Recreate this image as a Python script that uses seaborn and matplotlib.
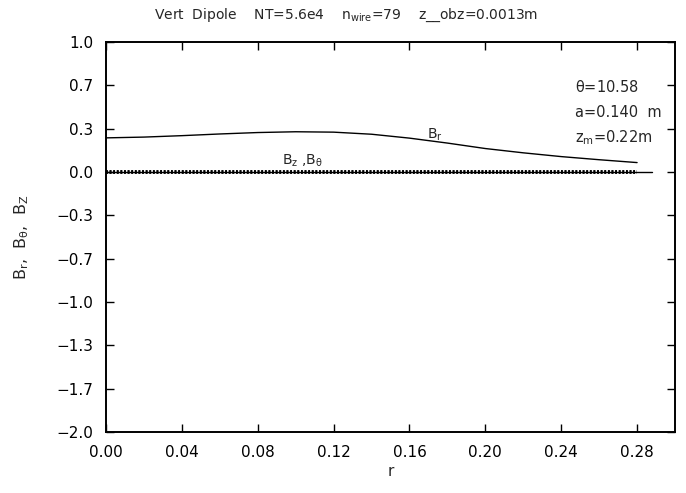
import matplotlib
matplotlib.use('Agg')
import numpy as np
import pandas as pd
import matplotlib.pyplot as plt
import seaborn as sns

# radial positions and field components
r_vals = [0.00, 0.02, 0.04, 0.06, 0.08, 0.10, 0.12, 0.14,
          0.16, 0.18, 0.20, 0.22, 0.24, 0.26, 0.28]
br_vals = [0.262, 0.268, 0.279, 0.292, 0.303, 0.309, 0.306, 0.290,
           0.260, 0.222, 0.180, 0.147, 0.118, 0.094, 0.072]
bz_vals = [0.0] * len(r_vals)
btheta_vals = [0.0] * len(r_vals)

zero_x = [0.0, 0.288]
zero_y = [0.0, 0.0]

x_ticks = [0.00, 0.04, 0.08, 0.12, 0.16, 0.20, 0.24, 0.28]
x_tick_labels = ['0.00', '0.04', '0.08', '0.12', '0.16', '0.20', '0.24', '0.28']
y_ticks = [1.0, 2/3, 1/3, 0.0, -1/3, -2/3, -1.0, -4/3, -5/3, -2.0]
y_tick_labels = ['1.0', '0.7', '0.3', '0.0', '\u22120.3', '\u22120.7',
                 '\u22121.0', '\u22121.3', '\u22121.7', '\u22122.0']

title_txt = r'Vert  Dipole    NT=5.6e4    n$_{wire}$=79    z__obz=0.0013m'
params = [r'$\theta$=10.58', 'a=0.140  m', r'z$_m$=0.22m']

sns.set_style('ticks')
plt.rcParams['font.family'] = ['DejaVu Sans']
plt.rcParams['mathtext.default'] = 'regular'

fig = plt.figure(figsize=(6.86, 4.93), dpi=100)
ax = fig.add_axes([0.1545, 0.1237, 0.8295, 0.7913])

df = pd.DataFrame({'r': r_vals, 'Br': br_vals, 'Bz': bz_vals, 'Bt': btheta_vals})

sns.lineplot(data=df, x='r', y='Br', ax=ax, color='black', linewidth=1.0)
ax.plot(zero_x, zero_y, color='black', linewidth=1.0)
sns.lineplot(data=df, x='r', y='Bz', ax=ax, color='black', linewidth=2.6,
             linestyle=(0, (0.5, 0.5)))
sns.lineplot(data=df, x='r', y='Bt', ax=ax, color='black', linewidth=2.6,
             linestyle=(0, (0.5, 0.5)))

ax.set_xlim(0.0, 0.30)
ax.set_ylim(-2.0, 1.0)
ax.set_xticks(x_ticks)
ax.set_xticklabels(x_tick_labels)
ax.set_yticks(y_ticks)
ax.set_yticklabels(y_tick_labels)
ax.tick_params(direction='in', length=6, width=1.0, top=True, right=True,
               labelsize=11, pad=9, colors='black')
for s in ax.spines.values():
    s.set_visible(True)
    s.set_linewidth(1.4)
    s.set_color('black')

ax.set_xlabel('r', fontsize=11, labelpad=3)
ax.set_ylabel(r'B$_r$,  B$_\theta$,  B$_Z$', fontsize=11.5, labelpad=18)
fig.text(0.505, 0.969, title_txt, ha='center', va='center', fontsize=10)

ax.text(0.169, 0.283, r'B$_r$', fontsize=10, ha='left', va='center')
ax.text(0.093, 0.085, r'B$_z$ ,B$_\theta$', fontsize=10, ha='left', va='center')
for txt, yv in zip(params, [0.657, 0.455, 0.265]):
    ax.text(0.2475, yv, txt, fontsize=10.5, ha='left', va='center')

fig.savefig('out.png', dpi=100)
